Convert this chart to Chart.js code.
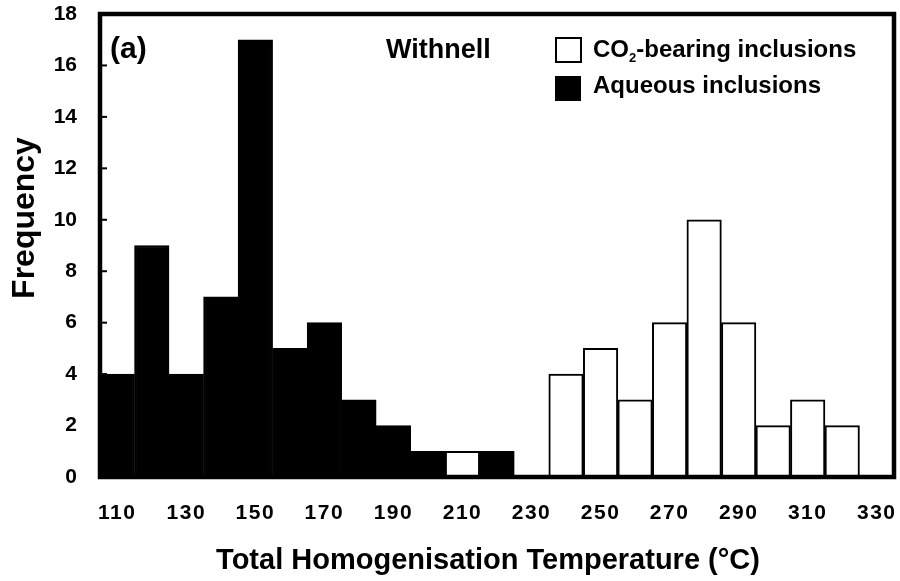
<!DOCTYPE html>
<html>
<head>
<meta charset="utf-8">
<script src="https://cdn.jsdelivr.net/npm/chart.js@4/dist/chart.umd.min.js"></script>
<style>
  html, body { margin: 0; padding: 0; background: #fff; }
  #wrap { width: 900px; height: 581px; }
</style>
</head>
<body>
<div id="wrap"><canvas id="chartHist"></canvas></div>
<script>
// ── data ──

const temps = ['110','120','130','140','150','160','170','180','190','200','210','220',
               '230','240','250','260','270','280','290','300','310','320','330'];
const co2Counts     = [0,0,0,0,0,0,0,0,0,0,1,0,0,4,5,3,6,10,6,2,3,2,0];
const aqueousCounts = [4,9,4,7,17,5,6,3,2,1,0,1,0,0,0,0,0,0,0,0,0,0,0];
const seriesLabels = ['CO2-bearing inclusions', 'Aqueous inclusions'];
const yTicks = [0,2,4,6,8,10,12,14,16,18];
const xTitle = 'Total Homogenisation Temperature (°C)';
const yTitle = 'Frequency';

const FONT = '"Liberation Sans", Arial, sans-serif';

// ── frame, inner ticks, titles, legend ──

const overlay = {
  id: 'overlay',
  afterLayout(chart) {
    // x tick labels are slightly spaced out in the original
    const sx = chart.scales.x;
    if (sx && !sx._spaced) {
      const orig = sx.drawLabels.bind(sx);
      sx.drawLabels = (area) => {
        chart.ctx.letterSpacing = '1.5px';
        orig(area);
        chart.ctx.letterSpacing = '0px';
      };
      sx._spaced = true;
    }
  },
  afterDatasetsDraw(chart) {
    const { ctx, chartArea: ca, scales: { y } } = chart;
    ctx.save();

    // inward tick marks on the left axis
    ctx.strokeStyle = '#000';
    ctx.lineWidth = 2;
    for (const v of yTicks) {
      const py = y.getPixelForValue(v);
      ctx.beginPath();
      ctx.moveTo(ca.left, py);
      ctx.lineTo(ca.left + 7, py);
      ctx.stroke();
    }

    // thick box round the plot
    ctx.lineWidth = 4.5;
    ctx.strokeRect(ca.left, ca.top, ca.right - ca.left, ca.bottom - ca.top);

    ctx.fillStyle = '#000';
    ctx.textBaseline = 'alphabetic';
    ctx.textAlign = 'left';

    ctx.font = 'bold 30px ' + FONT;
    ctx.fillText('(a)', ca.left + 10, ca.top + 44);

    ctx.font = 'bold 27px ' + FONT;
    ctx.fillText('Withnell', ca.left + 286, ca.top + 44);

    // legend
    const bx = ca.left + 456;
    const tx = ca.left + 493;
    ctx.lineWidth = 2;
    ctx.fillStyle = '#fff';
    ctx.fillRect(bx, ca.top + 24, 25, 24);
    ctx.strokeRect(bx, ca.top + 24, 25, 24);
    ctx.fillStyle = '#000';
    ctx.fillRect(bx - 1, ca.top + 62, 26, 25);

    ctx.font = 'bold 24px ' + FONT;
    ctx.fillText('CO', tx, ca.top + 43);
    let w = ctx.measureText('CO').width;
    ctx.font = 'bold 13px ' + FONT;
    ctx.fillText('2', tx + w, ca.top + 48);
    w += ctx.measureText('2').width;
    ctx.font = 'bold 24px ' + FONT;
    ctx.fillText(seriesLabels[0].slice(3), tx + w, ca.top + 43);
    ctx.fillText(seriesLabels[1], tx, ca.top + 79);

    // axis titles
    ctx.textAlign = 'center';
    ctx.font = 'bold 29px ' + FONT;
    ctx.fillText(xTitle, 488, 569);

    ctx.save();
    ctx.translate(34, 218);
    ctx.rotate(-Math.PI / 2);
    ctx.font = 'bold 32px ' + FONT;
    ctx.fillText(yTitle, 0, 0);
    ctx.restore();

    ctx.restore();
  }
};

// ── chart ──

const ctx = document.getElementById('chartHist');

new Chart(ctx, {
  type: 'bar',
  data: {
    labels: temps,
    datasets: [
      {
        label: seriesLabels[0],
        data: co2Counts,
        backgroundColor: '#fff',
        borderColor: '#000',
        borderWidth: 2,
        grouped: false,
        barPercentage: 1,
        categoryPercentage: 1,
      },
      {
        label: seriesLabels[1],
        data: aqueousCounts,
        backgroundColor: '#000',
        borderColor: '#000',
        borderWidth: 2,
        grouped: false,
        barPercentage: 1,
        categoryPercentage: 1,
      },
    ],
  },
  options: {
    responsive: true,
    maintainAspectRatio: false,
    animation: false,
    layout: { padding: { top: 14, right: 6, left: 0, bottom: 0 } },
    plugins: {
      legend: { display: false },
      tooltip: { enabled: false },
    },
    scales: {
      x: {
        grid: { display: false, drawTicks: false },
        border: { display: false },
        afterFit: (s) => { s.height = 104; s.paddingLeft = 0; s.paddingRight = 0; },
        ticks: {
          autoSkip: false,
          maxRotation: 0,
          padding: 24,
          color: '#000',
          font: { family: FONT, size: 21, weight: 'bold' },
          callback: (v, i) => (i % 2 === 0 ? temps[i] : ''),
        },
      },
      y: {
        min: 0,
        max: 18,
        grid: { display: false, drawTicks: false },
        border: { display: false },
        afterFit: (s) => { s.width = 100; s.paddingTop = 0; s.paddingBottom = 0; },
        ticks: {
          stepSize: 2,
          padding: 23,
          color: '#000',
          font: { family: FONT, size: 21, weight: 'bold' },
        },
      },
    },
  },
  plugins: [overlay],
});
</script>
</body>
</html>
